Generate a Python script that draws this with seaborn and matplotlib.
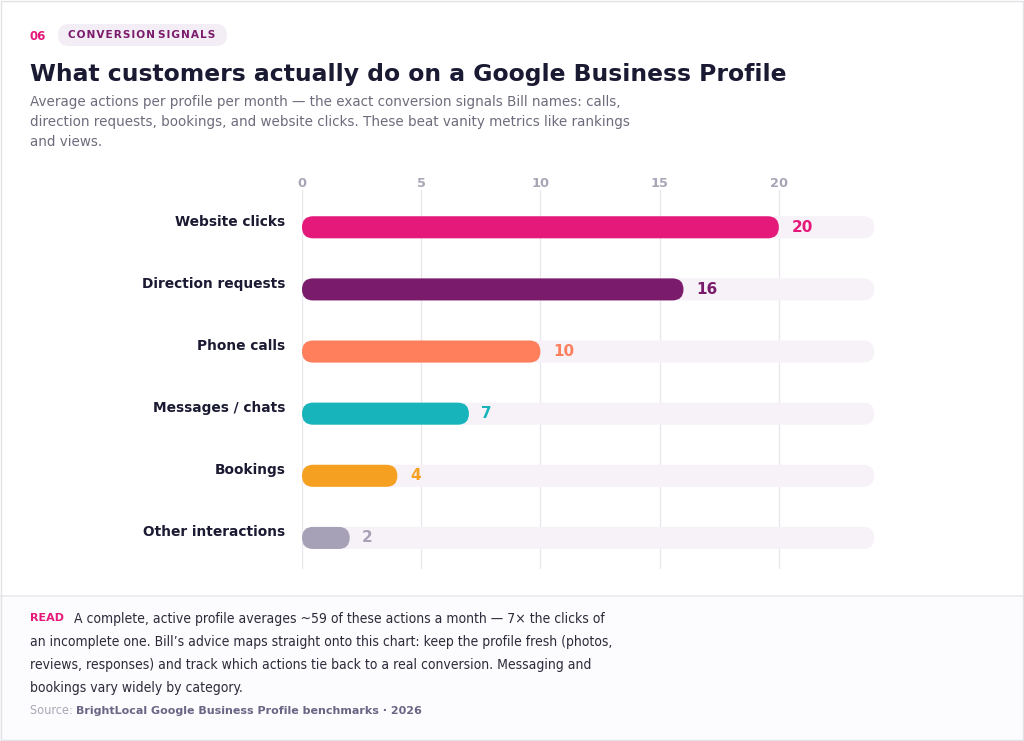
import matplotlib
matplotlib.use("Agg")
import matplotlib.pyplot as plt
import matplotlib.transforms as mtransforms
from matplotlib.patches import FancyBboxPatch, Rectangle
import pandas as pd
import seaborn as sns

# data
categories = ["Website clicks", "Direction requests", "Phone calls",
              "Messages / chats", "Bookings", "Other interactions"]
values = [20, 16, 10, 7, 4, 2]
bar_colors = ["#e5197a", "#7a1c6b", "#ff7f5c", "#17b5bb", "#f5a020", "#a6a1b6"]
track_max = 24
x_ticks = [0, 5, 10, 15, 20]

TRACK = "#f6f2f8"
DARK = "#1b1a33"
GRAY = "#6e6c7c"

sns.set_theme(style="white")
plt.rcParams['font.family'] = ['DejaVu Sans']

W, H = 1024, 741
fig = plt.figure(figsize=(W / 100, H / 100), dpi=100)
fig.patch.set_facecolor("white")

# footer panel + outer frame
fig.patches.append(Rectangle((0, 0), 1, 145 / H, transform=fig.transFigure,
                             facecolor="#fcfbfd", edgecolor="none", zorder=0))
fig.lines.append(plt.Line2D([0, 1], [145 / H, 145 / H], transform=fig.transFigure,
                            color="#ebe7ef", lw=1.2))
fig.patches.append(Rectangle((0.001, 0.001), 0.998, 0.997, transform=fig.transFigure,
                             fill=False, edgecolor="#e2e2e6", lw=1.0, zorder=5))

ax = fig.add_axes([302 / W, 1 - 569 / H, 577 / W, 379 / H])

df = pd.DataFrame({"action": categories, "value": values,
                   "track": [track_max] * len(values)})
bar_h = 0.355
sns.barplot(data=df, x="track", y="action", color=TRACK, width=bar_h,
            orient="h", ax=ax, saturation=1)
sns.barplot(data=df, x="value", y="action", hue="action", palette=bar_colors,
            width=bar_h, orient="h", legend=False, ax=ax, saturation=1)

ax.set_xlim(0, 24.2)
ax.set_ylim(5.5, -0.6)

# swap the square bars for pill shapes
px_x = ax.bbox.width / 24.2
px_y = ax.bbox.height / 6.1
for p in list(ax.patches):
    x0, y0, w, h = p.get_x(), p.get_y(), p.get_width(), p.get_height()
    fc = p.get_facecolor()
    p.remove()
    r_px = h * px_y / 2 * 0.999
    pill = FancyBboxPatch((x0, y0), w, h,
                          boxstyle=f"round,pad=0,rounding_size={r_px / px_x}",
                          mutation_aspect=px_x / px_y,
                          facecolor=fc, edgecolor="none", zorder=2)
    ax.add_patch(pill)

for i, (v, c) in enumerate(zip(values, bar_colors)):
    ax.annotate(str(v), (v, i), xytext=(9, 0), textcoords="offset points",
                va="center", ha="left", color=c, fontsize=11, fontweight="bold")

ax.set_xticks(x_ticks)
ax.xaxis.tick_top()
ax.tick_params(axis="x", length=0, pad=0, labelsize=9.3, labelcolor="#a7a6b6")
for t in ax.get_xticklabels():
    t.set_fontweight("bold")
ax.grid(axis="x", color="#e9e6ee", lw=0.9)
ax.grid(axis="y", visible=False)
ax.set_axisbelow(True)
ax.set_xlabel("")
ax.set_ylabel("")
ax.tick_params(axis="y", length=0, pad=12, labelsize=9.9, labelcolor=DARK)
shift = mtransforms.ScaledTranslation(0, 7 / 100, fig.dpi_scale_trans)
for t in ax.get_yticklabels():
    t.set_fontweight("bold")
    t.set_transform(t.get_transform() + shift)
for s in ax.spines.values():
    s.set_visible(False)
ax.set_facecolor("none")

# header
fig.patches.append(FancyBboxPatch((58 / W, 1 - 46 / H), 169 / W, 22 / H,
                                  boxstyle="round,pad=0,rounding_size=0.0107",
                                  mutation_aspect=W / H,
                                  transform=fig.transFigure,
                                  facecolor="#f3edf5", edgecolor="none"))
fig.text(30 / W, 1 - 36 / H, "06", color="#e5197a", fontsize=8.5,
         fontweight="bold", va="center")
fig.text(142 / W, 1 - 35 / H, "C O N V E R S I O N   S I G N A L S".replace(" ", "\u200a"),
         color="#7a1c6b", fontsize=7.6, fontweight="bold", va="center", ha="center")
fig.text(30 / W, 1 - 74 / H,
         "What customers actually do on a Google Business Profile",
         color=DARK, fontsize=16.9, fontweight="bold", va="center")
subtitle = ["Average actions per profile per month \u2014 the exact conversion signals Bill names: calls,",
            "direction requests, bookings, and website clicks. These beat vanity metrics like rankings",
            "and views."]
for k, line in enumerate(subtitle):
    fig.text(30 / W, 1 - (102 + 20 * k) / H, line, color=GRAY, fontsize=9.75,
             va="center")

# footer text
fig.text(30 / W, 1 - 618 / H, "READ", color="#e5197a", fontsize=8,
         fontweight="bold", va="center")
body = ["A complete, active profile averages ~59 of these actions a month \u2014 7\u00d7 the clicks of",
        "an incomplete one. Bill\u2019s advice maps straight onto this chart: keep the profile fresh (photos,",
        "reviews, responses) and track which actions tie back to a real conversion. Messaging and",
        "bookings vary widely by category."]
for k, line in enumerate(body):
    fig.text((74 if k == 0 else 30) / W, 1 - (619 + 23 * k) / H, line,
             color="#2c2b3a", fontsize=10, fontstretch="condensed", va="center")
src = fig.text(30 / W, 1 - 711 / H, "Source: ", color="#a9a7b5", fontsize=9.1,
               fontstretch="condensed", va="center")
fig.canvas.draw()
bb = src.get_window_extent()
fig.text(bb.x1 / W, 1 - 711 / H,
         "BrightLocal Google Business Profile benchmarks \u00b7 2026",
         color="#6b6585", fontsize=8, fontweight="bold", va="center")

fig.savefig("out.png", dpi=100, facecolor="white")
